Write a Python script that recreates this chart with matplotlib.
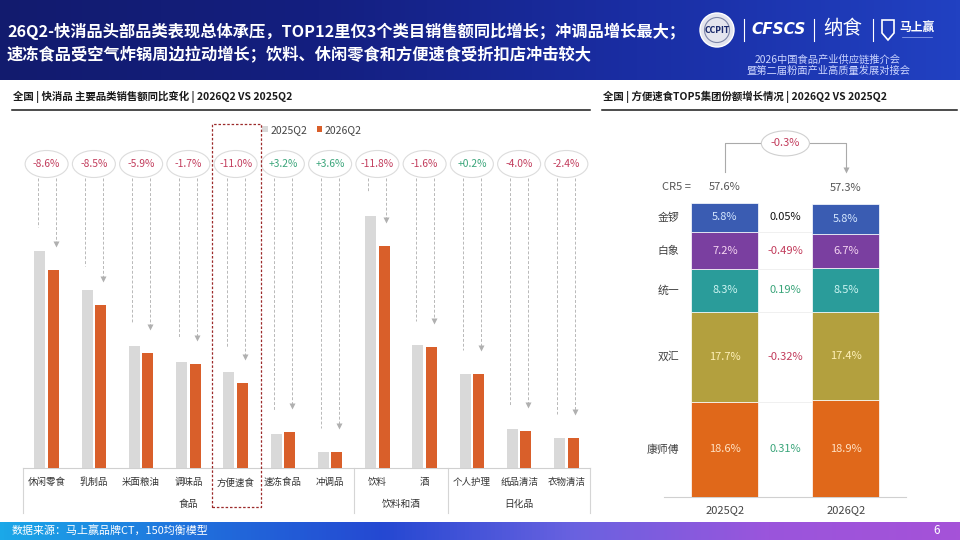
import matplotlib
matplotlib.use('Agg')
import matplotlib.pyplot as plt
import numpy as np
from matplotlib.patches import Ellipse, Rectangle, Circle, Polygon
from matplotlib.colors import LinearSegmentedColormap

plt.rcParams['font.family'] = ['Noto Sans CJK SC', 'DejaVu Sans']

# ---------------- data ----------------
title_lines = ['26Q2-快消品头部品类表现总体承压，TOP12里仅3个类目销售额同比增长；冲调品增长最大；',
               '速冻食品受空气炸锅周边拉动增长；饮料、休闲零食和方便速食受折扣店冲击较大']
left_header = '全国 | 快消品 主要品类销售额同比变化 | 2026Q2 VS 2025Q2'
right_header = '全国 | 方便速食TOP5集团份额增长情况 | 2026Q2 VS 2025Q2'
footer_text = '数据来源：马上赢品牌CT，150均衡模型'
page_no = '6'

categories = ['休闲零食', '乳制品', '米面粮油', '调味品', '方便速食', '速冻食品', '冲调品',
              '饮料', '酒', '个人护理', '纸品清洁', '衣物清洁']
groups = ['食品', '饮料和酒', '日化品']
group_sizes = [7, 2, 3]
series_names = ['2025Q2', '2026Q2']
sales_2025 = [217, 178, 122, 106, 96, 34, 16, 252, 123, 94, 39, 30]
sales_2026 = [198, 163, 115, 104, 85, 36, 16.5, 222, 121, 94, 37, 30]
yoy_labels = ['-8.6%', '-8.5%', '-5.9%', '-1.7%', '-11.0%', '+3.2%', '+3.6%',
              '-11.8%', '-1.6%', '+0.2%', '-4.0%', '-2.4%']
highlight = '方便速食'

brands = ['康师傅', '双汇', '统一', '白象', '金锣']
periods = ['2025Q2', '2026Q2']
share_2025 = [18.6, 17.7, 8.3, 7.2, 5.8]
share_2026 = [18.9, 17.4, 8.5, 6.7, 5.8]
share_diff = [0.31, -0.32, 0.19, -0.49, 0.05]
cr5_values = [57.6, 57.3]
cr5_change = '-0.3%'

# ---------------- styles ----------------
RED = '#c23c5c'
GREEN = '#3aa57a'
GREY_BAR = '#d9d9d9'
ORANGE_BAR = '#d95f2a'
brand_colors = ['#e0681a', '#b3a03e', '#2a9c9a', '#7a3fa0', '#3a5cb2']
brand_text_colors = ['#ffe2c4', '#fff1b8', '#cdf5f2', '#f6d6f2', '#d6e8ff']

W, H = 960, 540
fig = plt.figure(figsize=(9.6, 5.4), dpi=100)
fig.patch.set_facecolor('white')


def fa(l, t, r, b):
    return [l / W, 1 - b / H, (r - l) / W, (b - t) / H]


bg = fig.add_axes([0, 0, 1, 1])
bg.axis('off')

# header band
hdr = LinearSegmentedColormap.from_list('h', ['#121b6e', '#141f80', '#1a2ea4', '#2141c2'])
grad = np.linspace(0, 1, 256).reshape(1, -1)
bg.imshow(grad, extent=[0, W, 80, 0], cmap=hdr, aspect='auto', zorder=0)
# footer band
ftr = LinearSegmentedColormap.from_list('f', ['#1ba8e8', '#2070dc', '#2548d2', '#6a62e0', '#9a55dc', '#a552d8'])
bg.imshow(grad, extent=[0, W, 540, 522], cmap=ftr, aspect='auto', zorder=0)
bg.set_xlim(0, W)
bg.set_ylim(H, 0)

bg.text(7, 31, title_lines[0], color='white', fontsize=11.7, fontweight='bold', va='center')
bg.text(7, 54, title_lines[1], color='white', fontsize=11.7, fontweight='bold', va='center')

# logos (approximate)
bg.add_patch(Circle((717, 30), 17, fc='#e4e5ee', ec='white', lw=1, zorder=2))
bg.add_patch(Circle((717, 30), 12.5, fc='none', ec='#7d86a8', lw=0.8, zorder=3))
bg.text(717, 30.5, 'CCPIT', fontsize=5.5, fontweight='bold', color='#1b2a6b', ha='center', va='center', zorder=4,
        family='DejaVu Sans')
for sx in [744, 814, 873]:
    bg.plot([sx, sx], [19, 41], color='white', lw=0.8)
bg.text(779, 30, 'CFSCS', fontsize=11, fontweight='bold', style='italic', color='white',
        ha='center', va='center', family='DejaVu Sans')
bg.text(843, 29, '纳食', fontsize=14, color='white', ha='center', va='center')
bg.add_patch(Polygon([[882, 20], [894, 20], [894, 33], [888, 40], [882, 33]], closed=True,
                     fc='none', ec='white', lw=1.2))
bg.text(917, 27, '马上赢', fontsize=8.5, fontweight='bold', color='white', ha='center', va='center')
bg.plot([902, 932], [37, 37], color='#9fb0ee', lw=0.5)
bg.text(828, 59.5, '2026中国食品产业供应链推介会', fontsize=7.4, color='#cdd6ff', ha='center', va='center')
bg.text(828, 71, '暨第二届粉面产业高质量发展对接会', fontsize=7.4, color='#cdd6ff', ha='center', va='center')

# section headers
bg.text(13, 97, left_header, fontsize=7.5, fontweight='bold', color='#1a1a1a', va='center')
bg.plot([12, 590], [110, 110], color='#1a1a1a', lw=1.1)
bg.text(603, 97, right_header, fontsize=7.5, fontweight='bold', color='#1a1a1a', va='center')
bg.plot([602, 957], [110, 110], color='#1a1a1a', lw=1.1)

# footer
bg.text(12, 530, footer_text, fontsize=7.9, color='white', va='center')
bg.text(933, 530, page_no, fontsize=8.5, color='white', va='center')

# ---------------- left chart ----------------
ax = fig.add_axes(fa(23, 124, 590, 468))
ax.set_facecolor('none')
n = len(categories)
x = np.arange(n)
bw = 0.235
off = 0.143
ax.bar(x - off, sales_2025, bw, color=GREY_BAR, label=series_names[0], zorder=3)
ax.bar(x + off, sales_2026, bw, color=ORANGE_BAR, label=series_names[1], zorder=3)
ax.set_xlim(-0.5, n - 0.5)
ax.set_ylim(0, 344)
for s in ['top', 'right', 'left']:
    ax.spines[s].set_visible(False)
ax.spines['bottom'].set_color('#d0d0d0')
ax.spines['bottom'].set_linewidth(0.8)
ax.set_yticks([])
ax.set_xticks(x, categories)
ax.tick_params(axis='x', length=0, pad=7, labelsize=6.8, labelcolor='#333333')

ell_y = 304
ell_h = 27
dash = (0, (3, 2))
for i in range(n):
    lab = yoy_labels[i]
    col = GREEN if lab.startswith('+') else RED
    ax.add_patch(Ellipse((i, ell_y), 0.91, ell_h, fc='white', ec='#dcdcdc', lw=0.8, zorder=4, clip_on=False))
    ax.text(i, ell_y, lab, color=col, fontsize=7.4, ha='center', va='center', zorder=5)
    top = ell_y - ell_h / 2
    ax.plot([i - 0.19, i - 0.19], [top, sales_2025[i] + 24], ls=dash, color='#b8b8b8', lw=0.7, zorder=2)
    ax.plot([i + 0.19, i + 0.19], [top, sales_2026[i] + 28], ls=dash, color='#b8b8b8', lw=0.7, zorder=2)
    ax.plot([i + 0.19], [sales_2026[i] + 26], marker='v', ms=4.2, color='#b0b0b0', mec='none', zorder=2)

# highlight box
hi = categories.index(highlight)
ax.add_patch(Rectangle((hi - 0.49, -39), 1.02, 344 + 39, fill=False, ls=(0, (2, 1.5)),
                       ec='#9c2a2a', lw=0.9, clip_on=False, zorder=6))

# group separators and labels
bounds = np.concatenate([[0], np.cumsum(group_sizes)]) - 0.5
for b in bounds:
    ax.plot([b, b], [0, -45], color='#d5d5d5', lw=0.8, clip_on=False)
for g, a, b in zip(groups, bounds[:-1], bounds[1:]):
    ax.text((a + b) / 2, -36, g, fontsize=7.0, color='#333333', ha='center', va='center')

leg = ax.legend(loc='center left', bbox_to_anchor=((262 - 23) / 567, (468 - 130) / 344), ncol=2,
                frameon=False, fontsize=7.5, handlelength=0.55, handleheight=0.55, handletextpad=0.25,
                columnspacing=0.9, borderpad=0, borderaxespad=0)
for t in leg.get_texts():
    t.set_color('#444444')

# ---------------- right chart ----------------
ax2 = fig.add_axes(fa(664.4, 120, 906.4, 497))
ax2.set_facecolor('none')
pxu = 5.11  # pixels per percent
ax2.set_xlim(-0.5, 1.5)
ax2.set_ylim(0, 377 / pxu)
rbw = 0.554
for xi, shares in enumerate([share_2025, share_2026]):
    bottom = 0
    for k, v in enumerate(shares):
        ax2.bar(xi, v, rbw, bottom=bottom, color=brand_colors[k], edgecolor='white', linewidth=0.5, zorder=3)
        ax2.text(xi, bottom + v / 2, f'{v:.1f}%', color=brand_text_colors[k], fontsize=8,
                 ha='center', va='center', zorder=4)
        bottom += v

cum = np.cumsum(share_2025)
starts = cum - np.array(share_2025)
for k, b in enumerate(brands):
    yc = starts[k] + share_2025[k] / 2
    ax2.text(-0.375, yc, b, fontsize=7.8, color='#404040', ha='right', va='center')
    d = share_diff[k]
    dcol = RED if d < 0 else (GREEN if d >= 0.1 else '#111111')
    ax2.text(0.5, yc, f'{d:.2f}%', fontsize=8, color=dcol, ha='center', va='center')
for b in cum[:-1]:
    ax2.plot([rbw / 2, 1 - rbw / 2], [b, b], color='#eeeeee', lw=0.6, zorder=1)

for xi, tot in enumerate(cr5_values):
    ax2.text(xi, tot + 3.1, f'{tot:.1f}%', fontsize=8, color='#555555', ha='center', va='center')
ax2.text(-0.40, cr5_values[0] + 3.1, 'CR5 =', fontsize=8, color='#555555', ha='center', va='center')

conn_top = max(cr5_values) + 11.6
ax2.plot([0, 0, 0.3], [cr5_values[0] + 6, conn_top, conn_top], color='#aaaaaa', lw=0.8)
ax2.plot([0.7, 1, 1], [conn_top, conn_top, cr5_values[1] + 7], color='#aaaaaa', lw=0.8)
ax2.plot([1], [cr5_values[1] + 6.6], marker='v', ms=4.5, color='#aaaaaa', mec='none')
ax2.add_patch(Ellipse((0.5, conn_top), 0.397, 4.9, fc='white', ec='#d0d0d0', lw=0.8, zorder=4))
ax2.text(0.5, conn_top, cr5_change, color=RED, fontsize=8, ha='center', va='center', zorder=5)

for s in ['top', 'right', 'left']:
    ax2.spines[s].set_visible(False)
ax2.spines['bottom'].set_color('#d0d0d0')
ax2.spines['bottom'].set_linewidth(0.8)
ax2.set_yticks([])
ax2.set_xticks([0, 1], periods)
ax2.tick_params(axis='x', length=0, pad=6, labelsize=8, labelcolor='#444444')

fig.savefig('out.png', dpi=100)
